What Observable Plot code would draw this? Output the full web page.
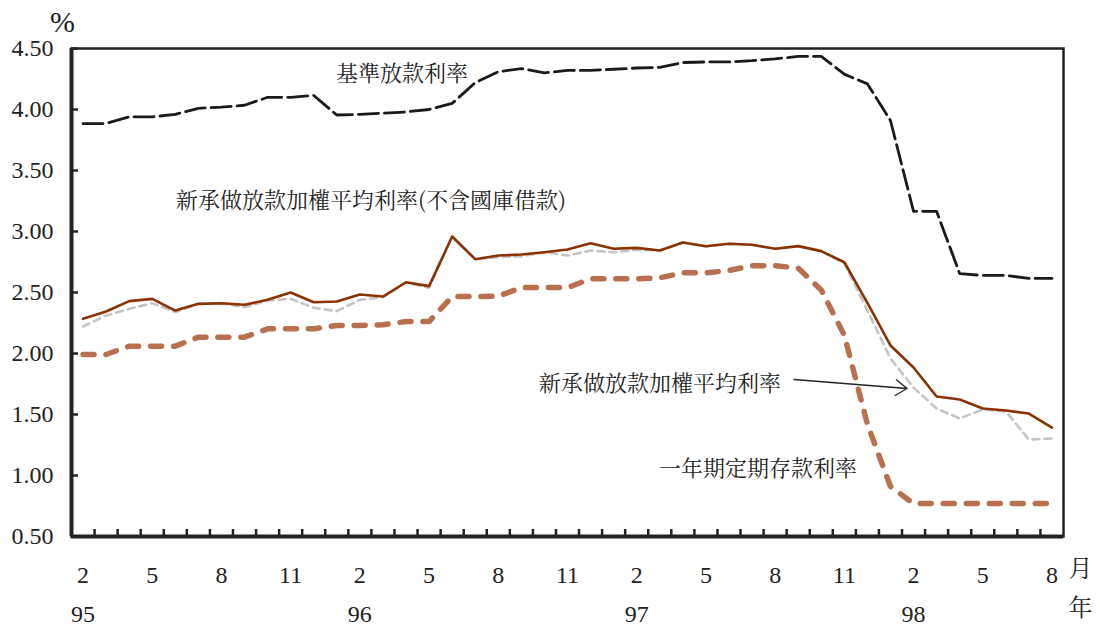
<!DOCTYPE html>
<html>
<head>
<meta charset="utf-8">
<script src="https://cdn.jsdelivr.net/npm/d3@7"></script>
<script src="https://cdn.jsdelivr.net/npm/@observablehq/plot@0.6"></script>
<style>
  html, body { margin: 0; padding: 0; background: #fff; }
  #chart { width: 1100px; height: 629px; }
</style>
</head>
<body>
<div id="chart"></div>
<script>
// Periods (ROC year / month), 95/2 .. 98/8
const periods = ["95/2","95/3","95/4","95/5","95/6","95/7","95/8","95/9","95/10","95/11","95/12",
  "96/1","96/2","96/3","96/4","96/5","96/6","96/7","96/8","96/9","96/10","96/11","96/12",
  "97/1","97/2","97/3","97/4","97/5","97/6","97/7","97/8","97/9","97/10","97/11","97/12",
  "98/1","98/2","98/3","98/4","98/5","98/6","98/7","98/8"];

// 基準放款利率
const baseRate = [3.885,3.885,3.94,3.94,3.96,4.01,4.02,4.035,4.10,4.10,4.115,3.955,3.96,3.97,3.98,4.00,4.05,4.22,4.31,4.335,4.30,4.32,4.32,4.33,4.34,4.345,4.385,4.39,4.39,4.40,4.415,4.435,4.435,4.29,4.21,3.91,3.165,3.165,2.655,2.64,2.64,2.615,2.615];
// 新承做放款加權平均利率(不含國庫借款)
const newLoanExTreasury = [2.284,2.344,2.429,2.448,2.352,2.407,2.412,2.399,2.44,2.50,2.42,2.426,2.484,2.467,2.584,2.552,2.959,2.773,2.803,2.811,2.83,2.852,2.904,2.858,2.866,2.844,2.91,2.879,2.899,2.891,2.858,2.88,2.839,2.748,2.415,2.066,1.885,1.648,1.623,1.549,1.533,1.508,1.393];
// 新承做放款加權平均利率
const newLoan = [2.221,2.311,2.366,2.412,2.339,2.407,2.412,2.38,2.434,2.448,2.375,2.347,2.44,2.462,2.58,2.539,2.959,2.773,2.79,2.795,2.83,2.803,2.844,2.83,2.85,2.844,2.91,2.879,2.899,2.891,2.858,2.88,2.839,2.74,2.352,1.959,1.721,1.549,1.467,1.541,1.525,1.295,1.303];
// 一年期定期存款利率
const deposit1y = [1.992,1.992,2.06,2.06,2.06,2.134,2.134,2.134,2.202,2.202,2.202,2.23,2.23,2.235,2.262,2.262,2.467,2.467,2.47,2.54,2.54,2.54,2.612,2.612,2.612,2.62,2.661,2.661,2.68,2.72,2.72,2.70,2.52,2.15,1.42,0.91,0.77,0.77,0.77,0.77,0.77,0.77,0.77];

// Tick labels
const monthTickIndex = [0,3,6,9,12,15,18,21,24,27,30,33,36,39,42];
const monthTickLabels = ["2","5","8","11","2","5","8","11","2","5","8","11","2","5","8"];
const yearTickIndex = [0,12,24,36];
const yearTickLabels = ["95","96","97","98"];
const yTicks = [0.5,1.0,1.5,2.0,2.5,3.0,3.5,4.0,4.5];
const yTickLabels = ["0.50","1.00","1.50","2.00","2.50","3.00","3.50","4.00","4.50"];

const boundaries = periods.slice(1).map((p, i) => i + 0.5);
const rows = (vals) => vals.map((v, i) => ({i, v, period: periods[i]}));

const serif = "Liberation Serif";
const cjk = "Noto Serif CJK TC";

const chart = Plot.plot({
  width: 1100,
  height: 629,
  marginLeft: 71,
  marginRight: 37,
  marginTop: 48,
  marginBottom: 93,
  style: {background: "#fff", overflow: "visible"},
  x: {type: "linear", domain: [-0.5, periods.length - 0.5]},
  y: {domain: [0.5, 4.5]},
  marks: [
    // series
    Plot.line(rows(deposit1y), {x: "i", y: "v", stroke: "#b9704f", strokeWidth: 5.5, strokeDasharray: "11,12", strokeLinejoin: "miter"}),
    Plot.line(rows(newLoan), {x: "i", y: "v", stroke: "#c4c4c4", strokeWidth: 2.6, strokeDasharray: "7,5"}),
    Plot.line(rows(newLoanExTreasury), {x: "i", y: "v", stroke: "#8c3200", strokeWidth: 2.6}),
    Plot.line(rows(baseRate), {x: "i", y: "v", stroke: "#1a1a1a", strokeWidth: 2.8, strokeDasharray: "20,6"}),
    // frame and heavier axis lines
    Plot.frame({stroke: "#222", strokeWidth: 2.5}),
    Plot.axisX(boundaries, {tickSize: 7, dy: -7, tickFormat: () => "", stroke: "#222", strokeWidth: 2.5}),
    Plot.axisY(yTicks, {tickSize: 7, dx: 7, tickFormat: () => "", stroke: "#222", strokeWidth: 2.5}),
    Plot.axisY(yTicks, {tickSize: 0, tickPadding: 18, tickFormat: (d) => yTickLabels[yTicks.indexOf(d)], fontSize: 24, fontFamily: serif, fill: "#222"}),
    Plot.axisX(monthTickIndex, {tickSize: 0, tickPadding: 29, tickFormat: (d) => monthTickLabels[monthTickIndex.indexOf(d)], fontSize: 24, fontFamily: serif, fill: "#222"}),
    Plot.axisX(yearTickIndex, {tickSize: 0, tickPadding: 68, tickFormat: (d) => yearTickLabels[yearTickIndex.indexOf(d)], fontSize: 24, fontFamily: serif, fill: "#222"}),
    Plot.ruleY([0.5], {stroke: "#222", strokeWidth: 4}),
    Plot.ruleX([-0.5], {stroke: "#222", strokeWidth: 4}),
    // unit labels
    Plot.text(["%"], {frameAnchor: "top-left", dx: -9, dy: -38, fontSize: 30, fontFamily: serif, fill: "#222", textAnchor: "middle", lineAnchor: "top"}),
    Plot.text(["月"], {frameAnchor: "bottom-right", dx: 17, dy: 40, fontSize: 24, fontFamily: cjk, fill: "#222", textAnchor: "middle"}),
    Plot.text(["年"], {frameAnchor: "bottom-right", dx: 17, dy: 79, fontSize: 24, fontFamily: cjk, fill: "#222", textAnchor: "middle"}),
    // series annotations
    Plot.text([{t: "基準放款利率", x: 10.97, y: 4.295}], {x: "x", y: "y", text: "t", textAnchor: "start", fontSize: 22, fontFamily: cjk, fill: "#222"}),
    Plot.text([{t: "新承做放款加權平均利率(不含國庫借款)", x: 4.03, y: 3.254}], {x: "x", y: "y", text: "t", textAnchor: "start", fontSize: 22, fontFamily: cjk, fill: "#222"}),
    Plot.text([{t: "新承做放款加權平均利率", x: 19.77, y: 1.754}], {x: "x", y: "y", text: "t", textAnchor: "start", fontSize: 22, fontFamily: cjk, fill: "#222"}),
    Plot.text([{t: "一年期定期存款利率", x: 24.97, y: 1.057}], {x: "x", y: "y", text: "t", textAnchor: "start", fontSize: 22, fontFamily: cjk, fill: "#222"}),
    Plot.arrow([{x1: 30.82, y1: 1.787, x2: 35.72, y2: 1.713}], {x1: "x1", y1: "y1", x2: "x2", y2: "y2", stroke: "#222", strokeWidth: 1.3, headLength: 16, headAngle: 70})
  ]
});
// set font family directly as attributes on the root and on each text element
chart.setAttribute("font-family", serif);
chart.querySelectorAll("text").forEach((t) => {
  const s = t.textContent || "";
  const fam = /[\u3400-\u9fff]/.test(s) ? cjk : serif;
  t.setAttribute("font-family", fam);
  t.style.setProperty("font-family", fam, "important");
});
document.getElementById("chart").appendChild(chart);
</script>
</body>
</html>
